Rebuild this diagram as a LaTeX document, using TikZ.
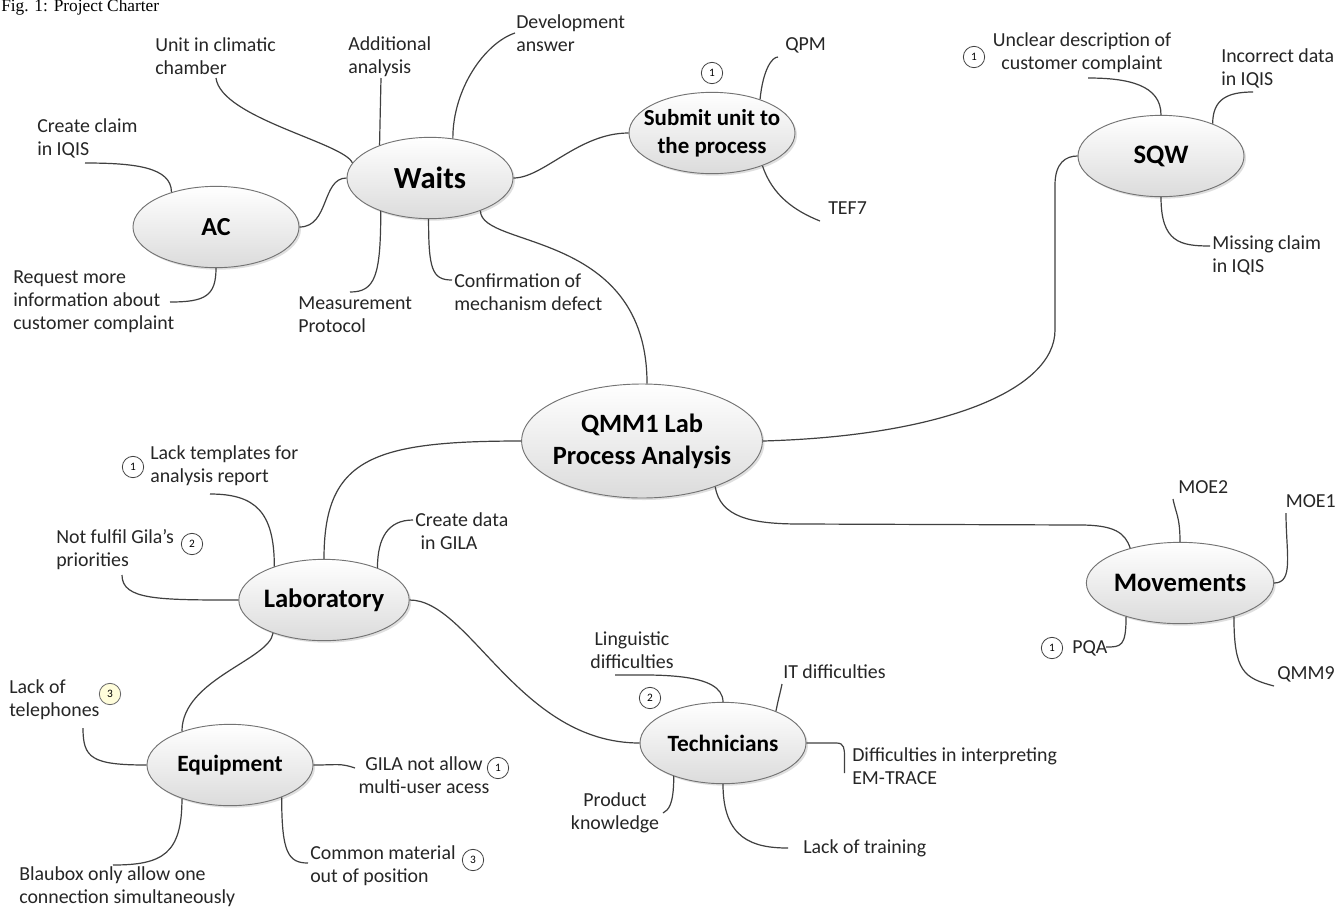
\documentclass[tikz,border=0pt]{standalone}
\usepackage{fontspec}
\setmainfont{Carlito}
\newfontfamily\captionfont{Liberation Serif}
\usetikzlibrary{shapes.geometric,shadows}
\tikzset{
	topic/.style={ellipse, draw=black!55, line width=0.7pt, top color=white, bottom color=black!14, minimum width=124.5pt, minimum height=61pt, inner sep=0pt, align=center, drop shadow={opacity=0.25, shadow xshift=1.5pt, shadow yshift=-1.5pt}},
	leaf/.style={inner sep=0pt, align=left, font=\fontsize{14.9}{17.25}\selectfont, text=black!85},
	badge/.style={circle, draw=black!75, line width=0.6pt, inner sep=0pt, minimum size=16pt, font=\fontsize{8.5}{8.5}\selectfont},
	branch/.style={draw=black!75, line width=0.9pt}
}

\begin{document}
\begin{tikzpicture}[x=0.75pt,y=-0.75pt]
				\path[fill=white, use as bounding box] (0,0) rectangle (1339,908);
				\node[anchor=base west, inner sep=0pt, font=\captionfont\fontsize{13}{15}\selectfont] (caption) at (1,11) {Fig. 1: Project Charter};
				
				\node[topic, minimum width=180pt, minimum height=85.5pt, inner xsep=-3pt, font=\bfseries\fontsize{19.8}{24}\selectfont] (qmm) at (642,441) {QMM1 Lab\\Process Analysis};
				\node[topic, font=\bfseries\fontsize{23}{26}\selectfont] (waits) at (430,178) {Waits};
				\node[topic, font=\bfseries\fontsize{19.5}{22}\selectfont] (ac) at (216,227) {AC};
				\node[topic, inner xsep=-9pt, font=\bfseries\fontsize{17.2}{21}\selectfont] (submit) at (712,133) {Submit unit to\\the process};
				\node[topic, font=\bfseries\fontsize{20}{23}\selectfont] (sqw) at (1161,156) {SQW};
				\node[topic, font=\bfseries\fontsize{20}{23}\selectfont] (mov) at (1180,583) {Movements};
				\node[topic, font=\bfseries\fontsize{20}{23}\selectfont] (lab) at (324,600) {Laboratory};
				\node[topic, font=\bfseries\fontsize{17.5}{21}\selectfont] (equip) at (230,765) {Equipment};
				\node[topic, font=\bfseries\fontsize{17.5}{21}\selectfont] (tech) at (723,743) {Technicians};
				
				\node[leaf, anchor=west] (climatic) at (155,56) {Unit in climatic\\chamber};
				\node[leaf, anchor=west] (additional) at (348,57) {Additional\\analysis};
				\node[leaf, anchor=west] (develop) at (516,33) {Development\\answer};
				\node[leaf, anchor=west] (claim) at (37,138) {Create claim\\in IQIS};
				\node[leaf, anchor=west] (request) at (13,302) {Request more\\information about\\customer complaint};
				\node[leaf, anchor=west] (meas) at (298,315) {Measurement\\Protocol};
				\node[leaf, anchor=west] (confirm) at (454,292) {Confirmation of\\mechanism defect};
				\node[leaf, anchor=west] (qpm) at (785,45) {QPM};
				\node[leaf, anchor=west] (tef) at (828,208) {TEF7};
				\node[leaf, align=center] (unclear) at (1082,53) {Unclear description of\\customer complaint};
				\node[leaf, anchor=west] (incorrect) at (1221,68) {Incorrect data\\in IQIS};
				\node[leaf, anchor=west] (missing) at (1212,255) {Missing claim\\in IQIS};
				\node[leaf, anchor=west] (moe2) at (1178,487) {MOE2};
				\node[leaf, anchor=east] (moe1) at (1336,501) {MOE1};
				\node[leaf, anchor=west] (pqa) at (1072,648) {PQA};
				\node[leaf, anchor=west] (qmm9) at (1277,674) {QMM9};
				\node[leaf, anchor=west] (templates) at (150,466) {Lack templates for\\analysis report};
				\node[leaf, anchor=west] (fulfil) at (56,550) {Not fulfil Gila's\\priorities};
				\node[leaf, anchor=west] (gladata) at (415,531) {Create data\\\hspace{4pt}in GILA};
				\node[leaf, anchor=west] (phones) at (9,700) {Lack of\\telephones};
				\node[leaf, align=center] (gila) at (424,775) {GILA not allow\\multi-user acess};
				\node[leaf, anchor=west] (blaubox) at (19,887) {Blaubox only allow one\\connection simultaneously};
				\node[leaf, anchor=west] (common) at (310,866) {Common material\\out of position};
				\node[leaf, align=center] (lingu) at (632,650) {Linguistic\\difficulties};
				\node[leaf, anchor=west] (itdiff) at (783,672) {IT difficulties};
				\node[leaf, anchor=west] (emtrace) at (852,766) {Difficulties in interpreting\\EM-TRACE};
				\node[leaf, align=center] (product) at (615,813) {Product\\knowledge};
				\node[leaf, anchor=west] (training) at (803,848) {Lack of training};
				
				\node[badge] (b-submit) at (712,73) {1};
				\node[badge] (b-unclear) at (974,57) {1};
				\node[badge] (b-pqa) at (1052,648) {1};
				\node[badge] (b-templates) at (133,467) {1};
				\node[badge] (b-fulfil) at (192,544) {2};
				\node[badge, fill=yellow!14, draw=black!60] (b-phones) at (110,694) {3};
				\node[badge] (b-gila) at (498,768) {1};
				\node[badge] (b-common) at (473,860) {3};
				\node[badge] (b-lingu) at (650,698) {2};
				
				\coordinate (c-climatic) at (216,78);
				\coordinate (c-additional) at (381,78);
				\coordinate (c-develop) at (515,33);
				\coordinate (c-claim) at (85,163);
				\coordinate (c-request) at (170,302);
				\coordinate (c-meas) at (350,292);
				\coordinate (c-confirm) at (452,280);
				\coordinate (c-qpm) at (778,57);
				\coordinate (c-tef) at (820,221);
				\coordinate (c-unclear) at (1088,78);
				\coordinate (c-incorrect) at (1253,92);
				\coordinate (c-missing) at (1210,246);
				\coordinate (c-moe2) at (1173,499);
				\coordinate (c-moe1) at (1286,513);
				\coordinate (c-pqa) at (1106,647);
				\coordinate (c-qmm9) at (1274,686);
				\coordinate (c-templates) at (210,494);
				\coordinate (c-fulfil) at (122,575);
				\coordinate (c-gladata) at (413,520);
				\coordinate (c-phones) at (83,728);
				\coordinate (c-gila) at (355,768);
				\coordinate (c-blaubox) at (113,865);
				\coordinate (c-common) at (308,863);
				\coordinate (c-lingu) at (615,675);
				\coordinate (c-itdiff) at (782,684);
				\coordinate (c-product) at (663,813);
				\coordinate (c-training) at (788,848);
				
				\draw[branch] (qmm.85) .. controls +(0,-154) and +(0,38) .. (waits.327);
				\draw[branch] (qmm.east) .. controls +(180,-5) and +(0,60) .. (1055,330) -- (1055,185) .. controls +(0,-22) and +(-12,0) .. (sqw.west);
				\draw[branch] (qmm.328) .. controls +(5,30) and +(-50,0) .. (800,524) -- (1080,525) .. controls +(35,0) and +(-5,-15) .. (mov.145);
				\draw[branch] (qmm.west) .. controls +(-150,0) and +(0,-100) .. (lab.north);
				
				\draw[branch] (waits.169) .. controls +(-8,-20) and +(5,40) .. (c-climatic);
				\draw[branch] (waits.147) -- (c-additional);
				\draw[branch] (waits.60) .. controls +(0,-50) and +(-30,10) .. (c-develop);
				\draw[branch] (waits.214) .. controls +(0,65) and +(25,0) .. (c-meas);
				\draw[branch] (waits.268) .. controls +(0,50) and +(-20,0) .. (c-confirm);
				\draw[branch] (waits.east) .. controls +(30,0) and +(-50,0) .. (submit.west);
				\draw[branch] (ac.east) .. controls +(30,0) and +(-25,0) .. (waits.west);
				\draw[branch] (ac.142) .. controls +(0,-25) and +(50,0) .. (c-claim);
				\draw[branch] (ac.south) .. controls +(0,28) and +(35,0) .. (c-request);
				
				\draw[branch] (submit.35) .. controls +(3,-30) and +(-6,0) .. (c-qpm);
				\draw[branch] (submit.327) .. controls +(10,30) and +(-25,-10) .. (c-tef);
				
				\draw[branch] (sqw.north) .. controls +(0,-30) and +(40,0) .. (c-unclear);
				\draw[branch] (sqw.32) .. controls +(0,-25) and +(-25,0) .. (c-incorrect);
				\draw[branch] (sqw.south) .. controls +(0,45) and +(-30,0) .. (c-missing);
				
				\draw[branch] (mov.north) .. controls +(0,-25) and +(3,15) .. (c-moe2);
				\draw[branch] (mov.east) .. controls +(20,0) and +(0,40) .. (c-moe1);
				\draw[branch] (mov.212) .. controls +(0,30) and +(15,0) .. (c-pqa);
				\draw[branch] (mov.328) .. controls +(0,55) and +(-30,-8) .. (c-qmm9);
				
				\draw[branch] (lab.146) .. controls +(0,-55) and +(45,0) .. (c-templates);
				\draw[branch] (lab.west) .. controls +(-80,0) and +(0,25) .. (c-fulfil);
				\draw[branch] (lab.31) .. controls +(0,-30) and +(-25,0) .. (c-gladata);
				\draw[branch] (lab.east) .. controls +(60,0) and +(-120,0) .. (tech.west);
				\draw[branch] (lab.213) .. controls +(-4,27) and +(0,-52) .. (equip.145);
				
				\draw[branch] (equip.west) .. controls +(-55,0) and +(0,30) .. (c-phones);
				\draw[branch] (equip.east) .. controls +(25,0) and +(-15,-5) .. (c-gila);
				\draw[branch] (equip.215) .. controls +(0,55) and +(50,0) .. (c-blaubox);
				\draw[branch] (equip.328) .. controls +(0,55) and +(-20,0) .. (c-common);
				
				\draw[branch] (tech.north) .. controls +(0,-30) and +(40,0) .. (c-lingu);
				\draw[branch] (tech.31) .. controls +(3,-15) and +(-2,10) .. (c-itdiff);
				\draw[branch] (tech.east) -- ++(30,0) .. controls +(8,0) and +(0,-8) .. ++(8,14) -- ++(0,16);
				\draw[branch] (tech.214) .. controls +(0,30) and +(5,-3) .. (c-product);
				\draw[branch] (tech.south) .. controls +(0,55) and +(-35,0) .. (c-training);
			\end{tikzpicture}
\end{document}
